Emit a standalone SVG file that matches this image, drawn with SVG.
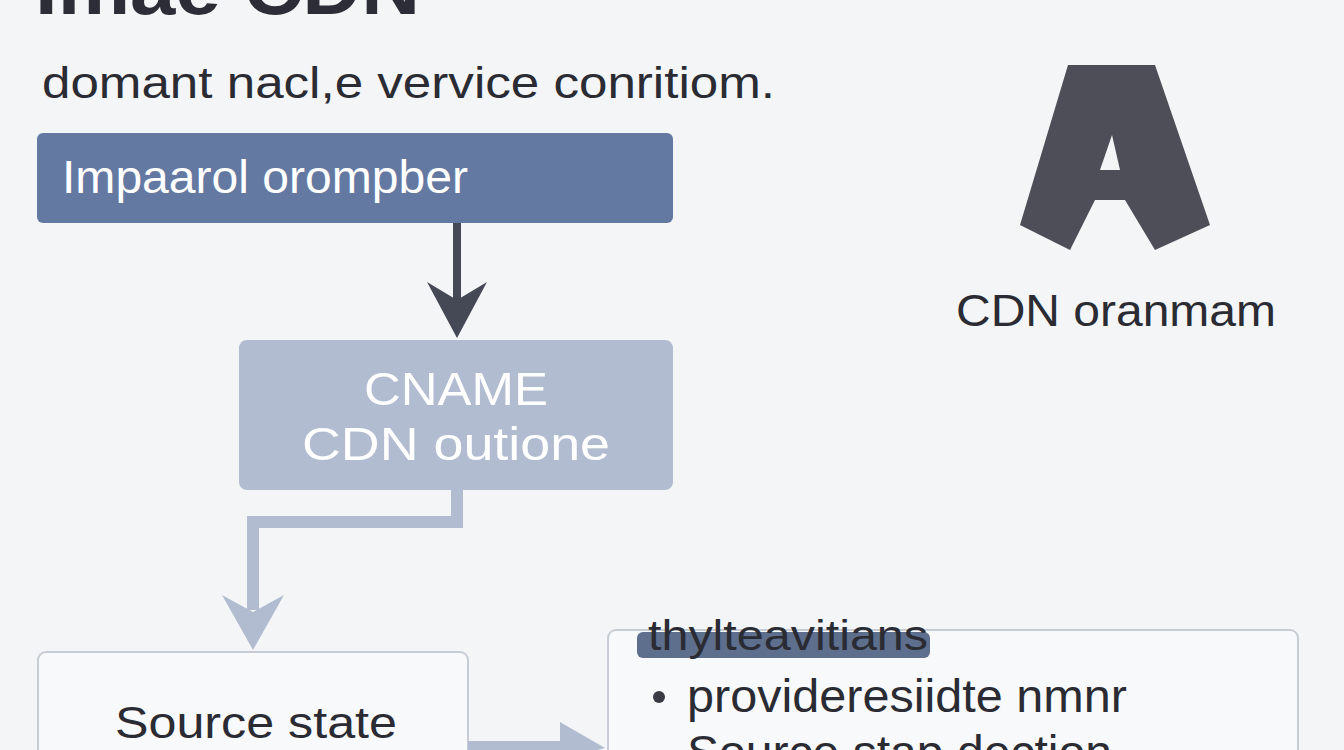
<svg xmlns="http://www.w3.org/2000/svg" width="1344" height="750" viewBox="0 0 1344 750">
<style>
text{font-family:"Liberation Sans",Arial,sans-serif}
</style>
<rect width="1344" height="750" fill="#f4f5f7"/>
<text x="35" y="14" font-size="76" font-weight="bold" fill="#2c2d36" textLength="385" lengthAdjust="spacingAndGlyphs">Imae CDN</text>
<text x="42" y="98" font-size="44" fill="#2a2b33" textLength="733" lengthAdjust="spacingAndGlyphs">domant nacl,e vervice conritiom.</text>
<g id="node1"><rect x="37" y="133" width="636" height="90" rx="6" fill="#6479a2"/><text x="62" y="193" font-size="46" fill="#fff" textLength="406" lengthAdjust="spacingAndGlyphs">Impaarol orompber</text></g>
<g id="node2"><rect x="239" y="340" width="434" height="150" rx="8" fill="#b1bcd0"/><text x="456" y="405" font-size="46" fill="#fff" text-anchor="middle" textLength="184" lengthAdjust="spacingAndGlyphs">CNAME</text><text x="456" y="460" font-size="46" fill="#fff" text-anchor="middle" textLength="308" lengthAdjust="spacingAndGlyphs">CDN outione</text></g>
<g id="logo"><polygon points="1068,65 1155,65 1210,225 1155,250 1125,200 1095,200 1070,250 1020,225" fill="#4d4e58"/><polygon points="1100,170 1120,170 1112,135" fill="#f4f5f7"/><text x="956" y="326" font-size="44" fill="#2a2b33" textLength="320" lengthAdjust="spacingAndGlyphs">CDN oranmam</text></g>
<g id="node3"><rect x="38" y="652" width="430" height="120" rx="8" fill="#f8f9fa" stroke="#c8ccd4" stroke-width="2"/><text x="115" y="738" font-size="44" fill="#2a2b33" textLength="282" lengthAdjust="spacingAndGlyphs">Source state</text></g>
<g id="node4"><rect x="608" y="630" width="690" height="140" rx="8" fill="#f8f9fa" stroke="#c8ccd4" stroke-width="2"/><rect x="637" y="632" width="293" height="26" rx="6" fill="#5d6f8d"/><text x="648" y="650" font-size="42" fill="#2a2b33" textLength="280" lengthAdjust="spacingAndGlyphs">thylteavitians</text><circle cx="659" cy="697" r="6" fill="#3a3b44"/><text x="687" y="712" font-size="46" fill="#2a2b33" textLength="440" lengthAdjust="spacingAndGlyphs">provideresiidte nmnr</text><text x="687" y="768" font-size="46" fill="#2a2b33" textLength="425" lengthAdjust="spacingAndGlyphs">Source stap dection</text></g>
<g id="connectors">
<line x1="457" y1="223" x2="457" y2="300" stroke="#454855" stroke-width="8"/>
<polygon points="427,282 457,338 487,282 457,300" fill="#454855"/>
<path d="M457,490 V522 H253 V610" fill="none" stroke="#b1bcd0" stroke-width="12"/>
<polygon points="222,595 253,650 284,595 253,612" fill="#b1bcd0"/>
<line x1="468" y1="748" x2="580" y2="748" stroke="#b1bcd0" stroke-width="14"/>
<polygon points="560,722 605,748 560,760" fill="#b1bcd0"/>
</g>
</svg>
